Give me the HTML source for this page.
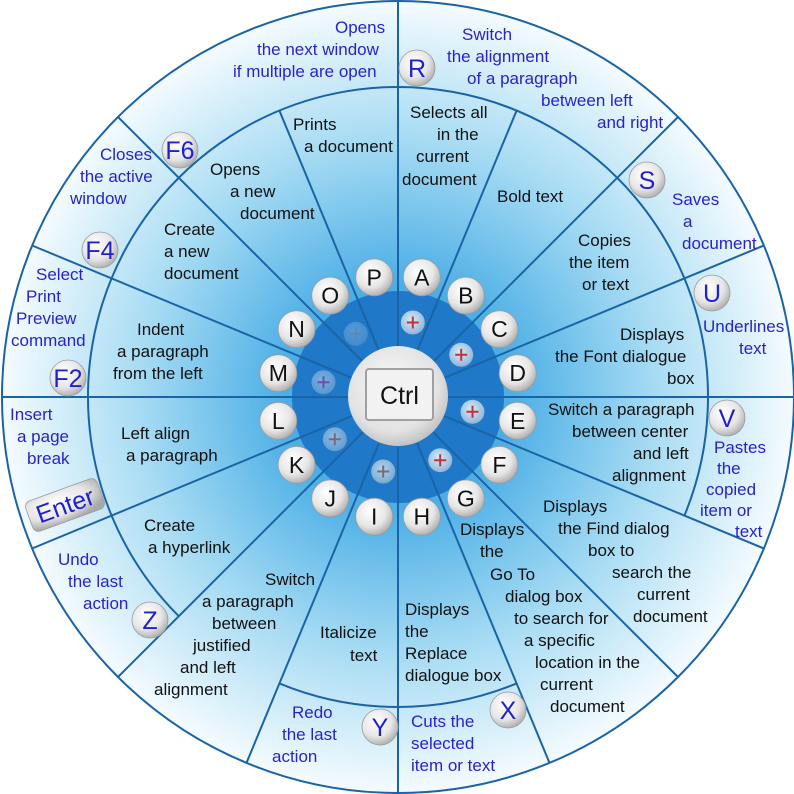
<!DOCTYPE html>
<html><head><meta charset="utf-8"><style>
html,body{margin:0;padding:0;background:#fff;}
svg{display:block;}
.i{font-family:"Liberation Sans",sans-serif;font-size:17px;fill:#111;}
.o{font-family:"Liberation Sans",sans-serif;font-size:17px;fill:#2a22c8;}
.k{font-family:"Liberation Sans",sans-serif;font-size:23px;fill:#111;text-anchor:middle;}
.b{font-family:"Liberation Sans",sans-serif;font-size:25px;fill:#2020d0;text-anchor:middle;}
</style></head><body>
<svg width="794" height="794" viewBox="0 0 794 794" xmlns="http://www.w3.org/2000/svg">
<defs>
<radialGradient id="bg" cx="398" cy="397" r="396" gradientUnits="userSpaceOnUse">
<stop offset="0" stop-color="#2d97dc"/>
<stop offset="0.3" stop-color="#4fb0e6"/>
<stop offset="0.65" stop-color="#a6dbf3"/>
<stop offset="1" stop-color="#f4fbfe"/>
</radialGradient>
<radialGradient id="btn" cx="0.4" cy="0.35" r="0.7">
<stop offset="0" stop-color="#ffffff"/>
<stop offset="0.6" stop-color="#e6e6e6"/>
<stop offset="1" stop-color="#a9a9a9"/>
</radialGradient>
<radialGradient id="ctrlg" cx="0.45" cy="0.4" r="0.65">
<stop offset="0" stop-color="#fafafa"/>
<stop offset="0.7" stop-color="#e2e2e2"/>
<stop offset="1" stop-color="#b9b9b9"/>
</radialGradient>
<radialGradient id="plus" cx="0.45" cy="0.4" r="0.6">
<stop offset="0" stop-color="#d8ecf8"/>
<stop offset="1" stop-color="#8fb6d6"/>
</radialGradient>
</defs>
<circle cx="398" cy="397" r="396" fill="url(#bg)"/>
<circle cx="398" cy="397" r="106" fill="#1f78c8"/>
<g stroke="#1a64a6" stroke-width="2" fill="none">
<line x1="398" y1="347" x2="398" y2="1"/>
<line x1="417.1" y1="350.8" x2="516.6" y2="110.6"/>
<line x1="433.4" y1="361.6" x2="678" y2="117"/>
<line x1="444.2" y1="377.9" x2="763.9" y2="245.5"/>
<line x1="448" y1="397" x2="794" y2="397"/>
<line x1="444.2" y1="416.1" x2="763.9" y2="548.5"/>
<line x1="433.4" y1="432.4" x2="678" y2="677"/>
<line x1="417.1" y1="443.2" x2="549.5" y2="762.9"/>
<line x1="398" y1="447" x2="398" y2="793"/>
<line x1="378.9" y1="443.2" x2="246.5" y2="762.9"/>
<line x1="362.6" y1="432.4" x2="118" y2="677"/>
<line x1="351.8" y1="416.1" x2="32.1" y2="548.5"/>
<line x1="348" y1="397" x2="2" y2="397"/>
<line x1="351.8" y1="377.9" x2="32.1" y2="245.5"/>
<line x1="362.6" y1="361.6" x2="118" y2="117"/>
<line x1="378.9" y1="350.8" x2="279.4" y2="110.6"/>
<path d="M178.8 616.2 A310 310 0 1 1 684.4 515.6"/>
<path d="M516.6 683.4 A310 310 0 0 1 279.4 683.4"/>
<circle cx="398" cy="397" r="396"/>
</g>
<g stroke-width="2">
<circle cx="412.8" cy="322.5" r="12" fill="url(#plus)"/>
<circle cx="461.2" cy="354.8" r="12" fill="url(#plus)"/>
<circle cx="472.5" cy="411.8" r="12" fill="url(#plus)"/>
<circle cx="440.2" cy="460.2" r="12" fill="url(#plus)"/>
<circle cx="383.2" cy="471.5" r="12" fill="url(#plus)" opacity="0.8"/>
<circle cx="334.8" cy="439.2" r="12" fill="url(#plus)" opacity="0.6"/>
<circle cx="323.5" cy="382.2" r="12" fill="url(#plus)" opacity="0.5"/>
<circle cx="355.8" cy="333.8" r="12" fill="url(#plus)" opacity="0.3"/>
<path stroke="#c0303c" d="M406.8 322.5h12M412.8 316.5v12M455.2 354.8h12M461.2 348.8v12M466.5 411.8h12M472.5 405.8v12M434.2 460.2h12M440.2 454.2v12"/>
<path stroke="#7a6a78" d="M377.2 471.5h12M383.2 465.5v12M328.8 439.2h12M334.8 433.2v12"/>
<path stroke="#7050a8" d="M317.5 382.2h12M323.5 376.2v12"/>
<path stroke="#5a88b0" d="M349.8 333.8h12M355.8 327.8v12"/>
</g>
<g fill="url(#btn)" stroke="#9a9a9a" stroke-width="0.8">
<circle cx="374.2" cy="277.3" r="18.5"/><circle cx="421.8" cy="277.3" r="18.5"/>
<circle cx="465.8" cy="295.6" r="18.5"/><circle cx="499.4" cy="329.2" r="18.5"/>
<circle cx="517.7" cy="373.2" r="18.5"/><circle cx="517.7" cy="420.8" r="18.5"/>
<circle cx="499.4" cy="464.8" r="18.5"/><circle cx="465.8" cy="498.4" r="18.5"/>
<circle cx="421.8" cy="516.7" r="18.5"/><circle cx="374.2" cy="516.7" r="18.5"/>
<circle cx="330.2" cy="498.4" r="18.5"/><circle cx="296.6" cy="464.8" r="18.5"/>
<circle cx="278.3" cy="420.8" r="18.5"/><circle cx="278.3" cy="373.2" r="18.5"/>
<circle cx="296.6" cy="329.2" r="18.5"/><circle cx="330.2" cy="295.6" r="18.5"/>
<circle cx="417" cy="68" r="18"/><circle cx="647" cy="180" r="18"/>
<circle cx="712" cy="293" r="18"/><circle cx="727" cy="418" r="18"/>
<circle cx="508" cy="710" r="18"/><circle cx="380" cy="727" r="18"/>
<circle cx="150" cy="620" r="18"/><circle cx="68" cy="378" r="18"/>
<circle cx="100" cy="250" r="18"/><circle cx="180" cy="150" r="18"/>
<rect x="27" y="489" width="76" height="32" rx="6" transform="rotate(-20 65 505)"/>
</g>
<g class="k">
<text x="374.2" y="285.3">P</text><text x="421.8" y="285.3">A</text>
<text x="465.8" y="303.6">B</text><text x="499.4" y="337.2">C</text>
<text x="517.7" y="381.2">D</text><text x="517.7" y="428.8">E</text>
<text x="499.4" y="472.8">F</text><text x="465.8" y="506.4">G</text>
<text x="421.8" y="524.7">H</text><text x="374.2" y="524.7">I</text>
<text x="330.2" y="506.4">J</text><text x="296.6" y="472.8">K</text>
<text x="278.3" y="428.8">L</text><text x="278.3" y="381.2">M</text>
<text x="296.6" y="337.2">N</text><text x="330.2" y="303.6">O</text>
</g>
<g class="b">
<text x="417" y="77">R</text><text x="647" y="189">S</text>
<text x="712" y="302">U</text><text x="727" y="427">V</text>
<text x="508" y="719">X</text><text x="380" y="736">Y</text>
<text x="150" y="629">Z</text><text x="68" y="387">F2</text>
<text x="100" y="259">F4</text><text x="180" y="159">F6</text>
<text x="65" y="514" transform="rotate(-20 65 505)">Enter</text>
</g>
<circle cx="398" cy="396" r="50" fill="url(#ctrlg)"/>
<rect x="366" y="369" width="67" height="51" rx="3" fill="#f2f2f2" stroke="#a0a0a0" stroke-width="2"/>
<text x="399.5" y="404" font-family="Liberation Sans, sans-serif" font-size="25" text-anchor="middle" fill="#111">Ctrl</text>
<g class="i">
<text x="293" y="130">Prints</text><text x="304" y="152">a document</text>
<text x="410" y="118">Selects all</text><text x="437" y="140">in the</text><text x="416" y="162">current</text><text x="402" y="185">document</text>
<text x="497" y="202">Bold text</text>
<text x="578" y="246">Copies</text><text x="569" y="268">the item</text><text x="582" y="290">or text</text>
<text x="620" y="340">Displays</text><text x="555" y="362">the Font dialogue</text><text x="667" y="384">box</text>
<text x="548" y="415">Switch a paragraph</text><text x="572" y="437">between center</text><text x="633" y="459">and left</text><text x="612" y="481">alignment</text>
<text x="543" y="512">Displays</text><text x="558" y="534">the Find dialog</text><text x="588" y="556">box to</text><text x="612" y="578">search the</text><text x="637" y="600">current</text><text x="633" y="622">document</text>
<text x="460" y="535">Displays</text><text x="480" y="557">the</text><text x="490" y="580">Go To</text><text x="505" y="602">dialog box</text><text x="514" y="624">to search for</text><text x="524" y="646">a specific</text><text x="535" y="668">location in the</text><text x="540" y="690">current</text><text x="550" y="712">document</text>
<text x="405" y="615">Displays</text><text x="405" y="637">the</text><text x="405" y="659">Replace</text><text x="405" y="681">dialogue box</text>
<text x="320" y="638">Italicize</text><text x="350" y="661">text</text>
<text x="265" y="585">Switch</text><text x="202" y="607">a paragraph</text><text x="212" y="629">between</text><text x="193" y="651">justified</text><text x="180" y="673">and left</text><text x="154" y="695">alignment</text>
<text x="144" y="531">Create</text><text x="148" y="553">a hyperlink</text>
<text x="121" y="439">Left align</text><text x="126" y="461">a paragraph</text>
<text x="137" y="335">Indent</text><text x="117" y="357">a paragraph</text><text x="113" y="379">from the left</text>
<text x="164" y="235">Create</text><text x="164" y="257">a new</text><text x="164" y="279">document</text>
<text x="210" y="175">Opens</text><text x="230" y="197">a new</text><text x="240" y="219">document</text>
</g>
<g class="o">
<text x="335" y="33">Opens</text><text x="257" y="55">the next window</text><text x="233" y="77">if multiple are open</text>
<text x="462" y="40">Switch</text><text x="447" y="62">the alignment</text><text x="467" y="84">of a paragraph</text><text x="541" y="106">between left</text><text x="597" y="128">and right</text>
<text x="672" y="205">Saves</text><text x="683" y="227">a</text><text x="682" y="249">document</text>
<text x="703" y="332">Underlines</text><text x="739" y="354">text</text>
<text x="714" y="453">Pastes</text><text x="717" y="474">the</text><text x="706" y="495">copied</text><text x="700" y="516">item or</text><text x="735" y="537">text</text>
<text x="411" y="727">Cuts the</text><text x="411" y="749">selected</text><text x="411" y="771">item or text</text>
<text x="292" y="718">Redo</text><text x="282" y="740">the last</text><text x="272" y="762">action</text>
<text x="58" y="565">Undo</text><text x="68" y="587">the last</text><text x="83" y="609">action</text>
<text x="10" y="420">Insert</text><text x="17" y="442">a page</text><text x="27" y="464">break</text>
<text x="36" y="280">Select</text><text x="26" y="302">Print</text><text x="16" y="324">Preview</text><text x="11" y="346">command</text>
<text x="100" y="160">Closes</text><text x="80" y="182">the active</text><text x="70" y="204">window</text>
</g>
</svg>
</body></html>
